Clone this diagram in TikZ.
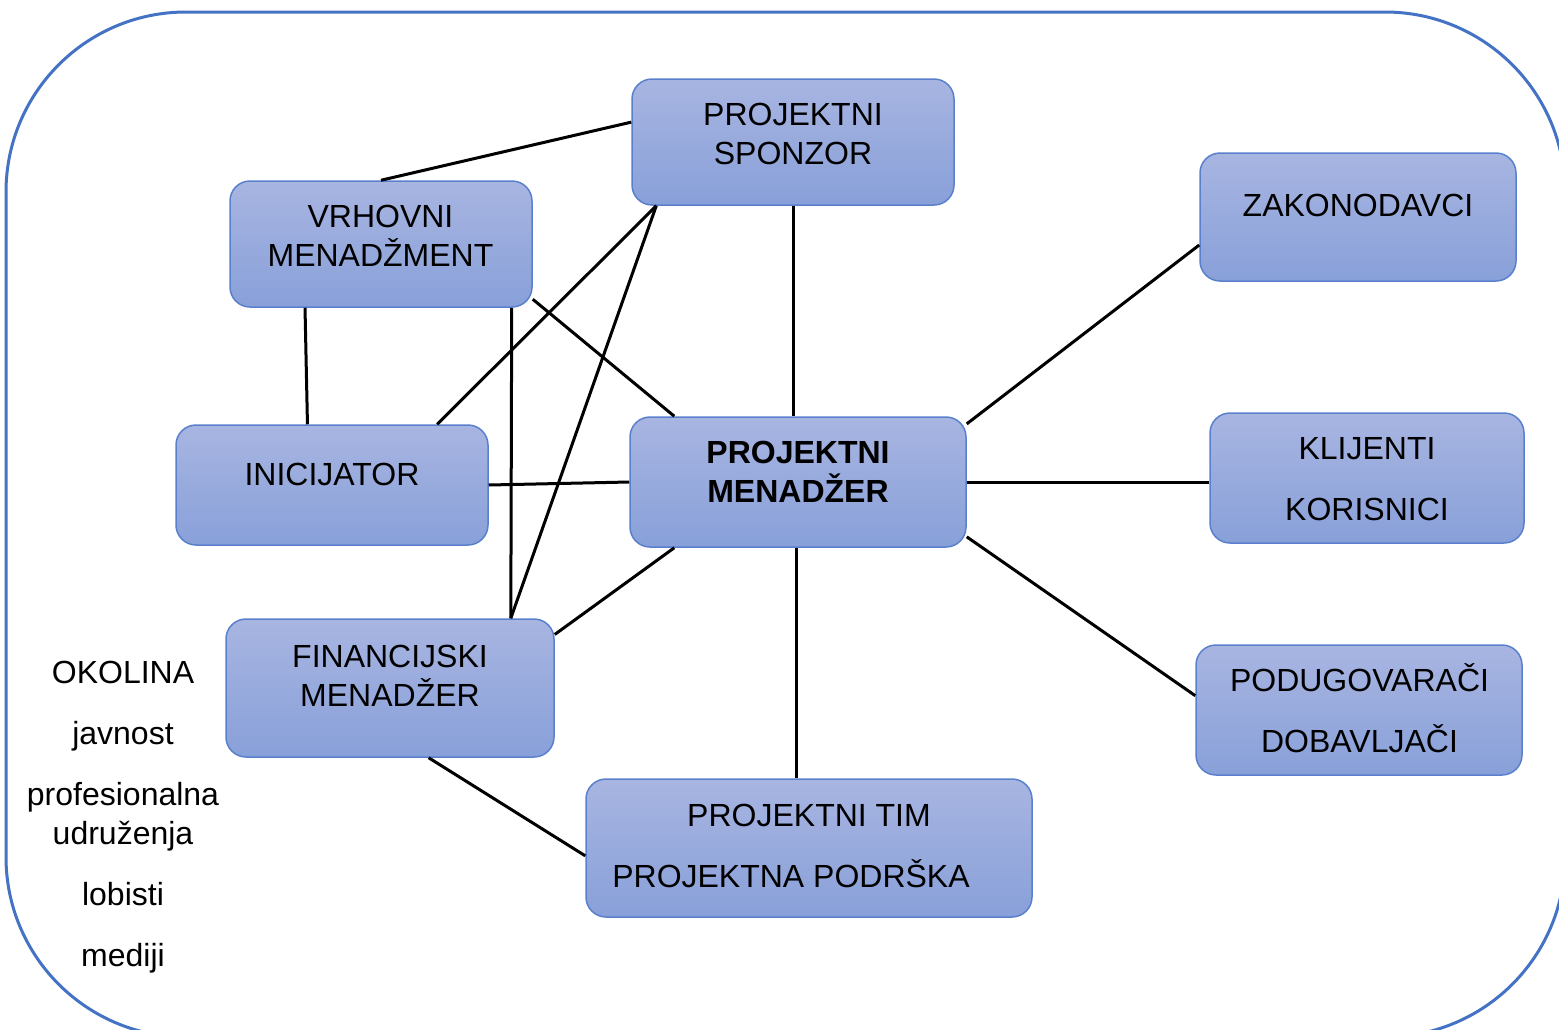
\documentclass[tikz,border=0pt]{standalone}
\usepackage{fontspec}
\setmainfont{Liberation Sans}

\definecolor{boxtop}{RGB}{168,181,225}
\definecolor{boxbot}{RGB}{136,160,217}
\definecolor{boxline}{RGB}{90,128,205}
\definecolor{frameline}{RGB}{68,114,196}

\tikzset{every picture/.style={line width=0.75pt}}
\tikzset{
  box/.style={draw=boxline, line width=0.75pt, rounded corners=10pt, top color=boxtop, bottom color=boxbot, inner sep=0pt},
  txt/.style={font=\fontsize{16}{19.5}\selectfont, align=center, inner sep=0pt},
  conn/.style={line width=1.5pt}
}

\begin{document}
\begin{tikzpicture}[x=0.5pt,y=0.5pt,yscale=-1,xscale=1]
	\clip (0,0) rectangle (1559,1029);

	%Shape: Rounded Rect (okolina)
	\draw [frameline, line width=1.5pt, rounded corners=90pt] (6,12) rectangle (1565,1037) ;

	%Shape: Rounded Rect
	\node [box, minimum width=161pt, minimum height=63pt] (spz) at (793,142) {};
	\node [box, minimum width=151pt, minimum height=63pt] (vrh) at (381,244) {};
	\node [box, minimum width=158pt, minimum height=64pt] (zak) at (1358,217) {};
	\node [box, minimum width=156pt, minimum height=60pt] (ini) at (332,485) {};
	\node [box, minimum width=168pt, minimum height=65pt] (pm) at (798,482) {};
	\node [box, minimum width=157pt, minimum height=65pt] (kli) at (1367,478) {};
	\node [box, minimum width=164pt, minimum height=69pt] (fin) at (390,688) {};
	\node [box, minimum width=163pt, minimum height=65pt] (pod) at (1359,710) {};
	\node [box, minimum width=223pt, minimum height=69pt] (tim) at (809,848) {};

	%Straight Lines
	\draw [conn] (vrh.north) -- (spz.173) ;
	\draw [conn] (vrh.-140) -- (ini.112) ;
	\draw [conn] (ini.30) -- (spz.-155) ;
	\draw [conn] (vrh.-20) -- (pm.152) ;
	\draw [conn] (vrh.-26) -- (fin.30) ;
	\draw [conn] (fin.30) -- (spz.-155) ;
	\draw [conn] (spz.south) -- (spz.south |- pm.north) ;
	\draw [conn] (ini.east) -- (pm.west) ;
	\draw [conn] (fin.18) -- (pm.-152) ;
	\draw [conn] (pm.19) -- (zak.-170) ;
	\draw [conn] (pm.east) -- (pm.east -| kli.west) ;
	\draw [conn] (pm.-18) -- (pod.175) ;
	\draw [conn] ([xshift=-1pt]pm.south) -- ([xshift=-1pt]pm.south |- tim.north) ;
	\draw [conn] (fin.-61) -- (tim.-178) ;

	% Text Node
	\node [txt] (spzT) at (793,133.5) {PROJEKTNI\\SPONZOR};
	% Text Node
	\node [txt] (vrhT) at (380.5,236) {VRHOVNI\\MENADŽMENT};
	% Text Node
	\node [txt] (zakT) at (1358,205) {ZAKONODAVCI};
	% Text Node
	\node [txt] (iniT) at (332,474) {INICIJATOR};
	% Text Node
	\node [txt, font=\fontsize{16}{19.5}\selectfont\bfseries] (pmT) at (798,472) {PROJEKTNI\\MENADŽER};
	% Text Node
	\node [txt] (kliT) at (1367,479.5) {KLIJENTI\\[11pt]KORISNICI};
	% Text Node
	\node [txt] (finT) at (390,676) {FINANCIJSKI\\MENADŽER};
	% Text Node
	\node [txt] (podT) at (1359.5,708.5) {PODUGOVARAČI\\[11pt]DOBAVLJAČI};
	% Text Node
	\node [txt] (timT) at (809,845.5) {PROJEKTNI TIM\\[11pt]PROJEKTNA PODRŠKA\hspace*{18pt}};
	% Text Node
	\node [txt] (okol) at (123,817) {OKOLINA\\[11pt]javnost\\[11pt]profesionalna\\udruženja\\[11pt]lobisti\\[11pt]mediji};

\end{tikzpicture}
\end{document}
